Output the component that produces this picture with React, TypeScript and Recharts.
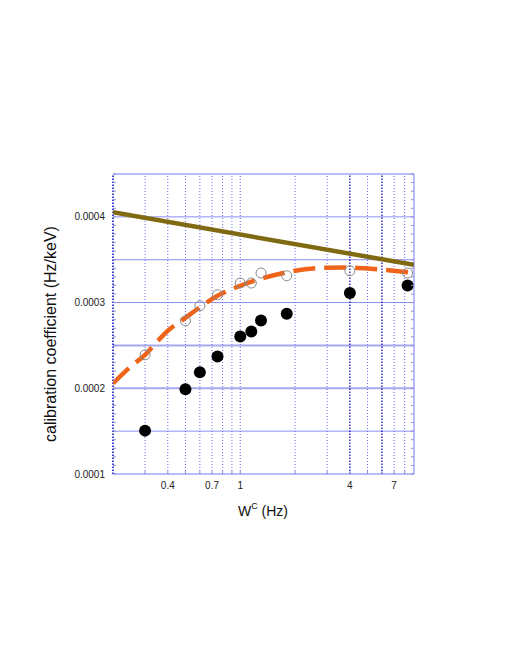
import React from 'react';
import {
  ComposedChart,
  Line,
  Scatter,
  XAxis,
  YAxis,
  ReferenceLine,
  Label,
} from 'recharts';

// measured points (W^C in Hz, coefficient in Hz/keV)
const FILLED = [
  { x: 0.3, y: 0.0001506 },
  { x: 0.5, y: 0.000199 },
  { x: 0.6, y: 0.0002188 },
  { x: 0.75, y: 0.000237 },
  { x: 1.0, y: 0.0002604 },
  { x: 1.15, y: 0.0002662 },
  { x: 1.3, y: 0.0002791 },
  { x: 1.8, y: 0.0002869 },
  { x: 4, y: 0.0003111 },
  { x: 8.3, y: 0.00032 },
];

const OPEN = [
  { x: 0.3, y: 0.000239 },
  { x: 0.5, y: 0.0002787 },
  { x: 0.6, y: 0.0002963 },
  { x: 0.75, y: 0.0003091 },
  { x: 1.0, y: 0.0003228 },
  { x: 1.15, y: 0.0003228 },
  { x: 1.3, y: 0.0003345 },
  { x: 1.8, y: 0.0003313 },
  { x: 4, y: 0.0003371 },
  { x: 8.3, y: 0.0003345 },
];

// fitted curve (dashed orange)
const FIT = [
  { x: 0.2, y: 0.0002057 },
  { x: 0.25, y: 0.0002253 },
  { x: 0.3, y: 0.000239 },
  { x: 0.35, y: 0.0002546 },
  { x: 0.4, y: 0.0002671 },
  { x: 0.5, y: 0.0002822 },
  { x: 0.6, y: 0.0002945 },
  { x: 0.75, y: 0.0003079 },
  { x: 1.0, y: 0.0003196 },
  { x: 1.4, y: 0.0003298 },
  { x: 1.9, y: 0.0003363 },
  { x: 2.7, y: 0.0003403 },
  { x: 3.8, y: 0.000341 },
  { x: 5.4, y: 0.0003391 },
  { x: 7.6, y: 0.0003363 },
  { x: 9, y: 0.0003345 },
];

// straight reference line (olive)
const REF = [
  { x: 0.2, y: 0.0004053 },
  { x: 9, y: 0.000344 },
];

const X_DOMAIN = [0.2, 9];
const Y_DOMAIN = [0.0001, 0.00045];
const X_LABELS = [0.4, 0.7, 1, 4, 7];
const X_MINOR = [0.3, 0.4, 0.5, 0.6, 0.7, 0.8, 0.9, 1, 2, 3, 4, 5, 6, 7, 8];
const Y_MAJOR = [0.0001, 0.0002, 0.0003, 0.0004];
const Y_MINOR = Array.from({ length: 36 }, (_, i) => +(0.0001 + i * 0.00001).toFixed(6));
const H_GRID = [0.00015, 0.0002, 0.00025, 0.0003, 0.00035, 0.0004];
const H_GRID_HEAVY = [0.0002, 0.00025];
const V_GRID_LIGHT = [0.3, 0.4, 0.5, 0.6, 0.7, 0.8, 0.9, 1, 2, 3, 5, 7, 8];
const V_GRID_DARK = [4, 6];

const font = "'Liberation Sans', Arial, Helvetica, sans-serif";

const LeftTick = (props: any) => {
  const { x, y, payload } = props;
  const v = payload.value;
  const major = Y_MAJOR.some((m) => Math.abs(m - v) < 1e-9);
  return (
    <g>
      <line x1={x} x2={x + 3} y1={y} y2={y} stroke="#8f8fd8" strokeWidth={1} />
      {major && (
        <text x={x - 8} y={y} dy={3.5} textAnchor="end" fontSize={10} fill="#222" fontFamily={font}>
          {v.toFixed(4)}
        </text>
      )}
    </g>
  );
};

const RightTick = (props: any) => {
  const { x, y } = props;
  return <line x1={x - 3} x2={x} y1={y} y2={y} stroke="#8f8fd8" strokeWidth={1} />;
};

const BottomTick = (props: any) => {
  const { x, y, payload } = props;
  const v = payload.value;
  return (
    <g>
      <line x1={x} x2={x} y1={y} y2={y - 3} stroke="#8f8fd8" strokeWidth={1} />
      {X_LABELS.includes(v) && (
        <text x={x} y={y + 14.5} textAnchor="middle" fontSize={10} fill="#222" fontFamily={font}>
          {String(v)}
        </text>
      )}
    </g>
  );
};

const FilledDot = (p: any) => <circle cx={p.cx} cy={p.cy} r={6} fill="#000" />;
const OpenDot = (p: any) => (
  <circle cx={p.cx} cy={p.cy} r={5} fill="none" stroke="#8a8a8a" strokeWidth={1} />
);

export default function App() {
  return (
    <div style={{ position: 'absolute', left: 0, top: 0, background: '#fff' }}>
      <ComposedChart
        width={510}
        height={660}
        margin={{ top: 174, right: 95, left: 60, bottom: 146 }}
      >
        <XAxis
          type="number"
          dataKey="x"
          scale="log"
          domain={X_DOMAIN}
          allowDataOverflow
          ticks={X_MINOR}
          interval={0}
          height={40}
          axisLine={false}
          tickLine={false}
          tickSize={0}
          tickMargin={0}
          tick={BottomTick}
        >
          <Label
            content={() => (
              <text x={263} y={516} textAnchor="middle" fontSize={14} fill="#111" fontFamily={font}>
                W<tspan fontSize={9} dy={-7}>C</tspan>
                <tspan dy={7}> (Hz)</tspan>
              </text>
            )}
          />
        </XAxis>
        <YAxis
          yAxisId="l"
          type="number"
          domain={Y_DOMAIN}
          allowDataOverflow
          ticks={Y_MINOR}
          interval={0}
          width={53}
          axisLine={false}
          tickLine={false}
          tickSize={0}
          tickMargin={0}
          tick={LeftTick}
        >
          <Label
            content={() => (
              <text
                x={56}
                y={334}
                transform="rotate(-90 56 334)"
                textAnchor="middle"
                fontSize={16}
                fill="#111"
                fontFamily={font}
              >
                calibration coefficient (Hz/keV)
              </text>
            )}
          />
        </YAxis>
        <YAxis
          yAxisId="r"
          orientation="right"
          type="number"
          domain={Y_DOMAIN}
          allowDataOverflow
          ticks={Y_MINOR}
          interval={0}
          width={1}
          axisLine={false}
          tickLine={false}
          tickSize={0}
          tickMargin={0}
          tick={RightTick}
        />

        {H_GRID.map((v) => (
          <ReferenceLine
            key={`h${v}`}
            yAxisId="l"
            y={v}
            stroke={H_GRID_HEAVY.includes(v) ? '#a8a8f0' : '#8c8cf2'}
            strokeWidth={H_GRID_HEAVY.includes(v) ? 2 : 1}
          />
        ))}
        {V_GRID_LIGHT.map((v) => (
          <ReferenceLine
            key={`v${v}`}
            yAxisId="l"
            x={v}
            stroke="#6a6af5"
            strokeDasharray="1 2"
            strokeWidth={1}
          />
        ))}
        {V_GRID_DARK.map((v) => (
          <ReferenceLine
            key={`vd${v}`}
            yAxisId="l"
            x={v}
            stroke="#0000b0"
            strokeDasharray="1.5 1.5"
            strokeWidth={1.2}
          />
        ))}
        <ReferenceLine yAxisId="l" y={Y_DOMAIN[1]} stroke="#7878f0" />
        <ReferenceLine yAxisId="l" y={Y_DOMAIN[0]} stroke="#7878f0" />
        <ReferenceLine yAxisId="l" x={X_DOMAIN[1]} stroke="#7878f0" />
        <ReferenceLine yAxisId="l" x={X_DOMAIN[0]} stroke="#0000c0" strokeDasharray="1.5 1.5" strokeWidth={1.5} />

        <Line
          yAxisId="l"
          data={REF}
          dataKey="y"
          type="linear"
          stroke="#7f6a12"
          strokeWidth={4.5}
          dot={false}
          activeDot={false}
          isAnimationActive={false}
        />
        <Line
          yAxisId="l"
          data={FIT}
          dataKey="y"
          type="monotone"
          stroke="#f0641a"
          strokeWidth={4.5}
          strokeDasharray="22 9"
          dot={false}
          activeDot={false}
          isAnimationActive={false}
        />
        <Scatter yAxisId="l" data={OPEN} dataKey="y" shape={OpenDot} isAnimationActive={false} />
        <Scatter yAxisId="l" data={FILLED} dataKey="y" shape={FilledDot} isAnimationActive={false} />
      </ComposedChart>
    </div>
  );
}
